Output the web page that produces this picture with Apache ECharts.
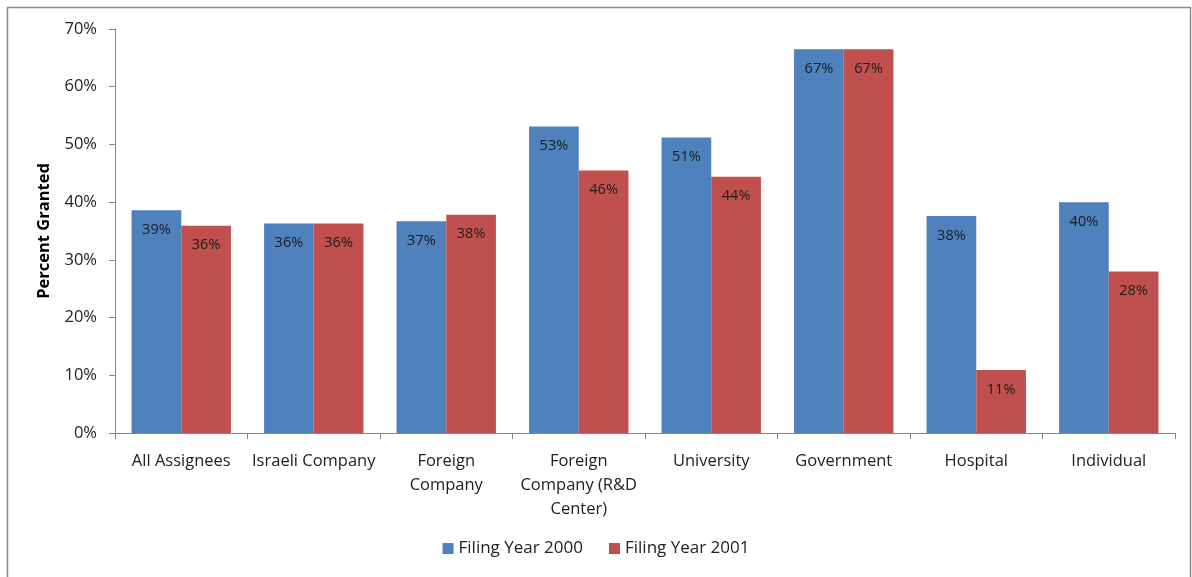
<!DOCTYPE html>
<html>
<head>
<meta charset="utf-8">
<script src="https://cdn.jsdelivr.net/npm/echarts@6/dist/echarts.min.js"></script>
<style>
html,body{margin:0;padding:0;background:#fff;}
#chart{width:1192px;height:577px;}
</style>
</head>
<body>
<div id="chart"></div>
<script>
const categories = ['All Assignees', 'Israeli Company', 'Foreign\nCompany', 'Foreign\nCompany (R&D\nCenter)', 'University', 'Government', 'Hospital', 'Individual'];
const year2000 = [38.6, 36.3, 36.7, 53.1, 51.2, 66.5, 37.6, 40.0];
const year2001 = [35.9, 36.3, 37.8, 45.5, 44.4, 66.5, 10.9, 28.0];
const yTicks = [0, 10, 20, 30, 40, 50, 60, 70];
const seriesNames = ['Filing Year 2000', 'Filing Year 2001'];

const font = '"Open Sans", "Liberation Sans", sans-serif';
const chart = echarts.init(document.getElementById('chart'));
const labelCfg = {
  show: true,
  position: 'insideTop',
  distance: 12,
  color: '#1c1c1c',
  fontFamily: font,
  fontSize: 14.5,
  formatter: p => Math.round(p.value) + '%'
};
chart.setOption({
  animation: false,
  backgroundColor: '#fff',
  graphic: [{
    type: 'rect',
    shape: { x: 7.5, y: 7.5, width: 1183, height: 600 },
    style: { fill: 'none', stroke: '#8c8c8c', lineWidth: 1.5 },
    silent: true
  }],
  grid: { left: 115, right: 17, top: 29, bottom: 144, containLabel: false },
  legend: {
    bottom: 15,
    left: 'center',
    itemWidth: 11,
    itemHeight: 11,
    itemGap: 26,
    icon: 'rect',
    textStyle: { fontFamily: font, fontSize: 17, color: '#222' },
    data: seriesNames
  },
  xAxis: {
    type: 'category',
    data: categories,
    axisLine: { lineStyle: { color: '#868686' } },
    axisTick: { show: true, length: 6, lineStyle: { color: '#868686' } },
    axisLabel: { fontFamily: font, fontSize: 16.5, color: '#222', margin: 16, lineHeight: 24, interval: 0 }
  },
  yAxis: {
    type: 'value',
    min: 0,
    max: 70,
    interval: 10,
    name: 'Percent Granted',
    nameLocation: 'middle',
    nameGap: 62,
    nameTextStyle: { fontFamily: font, fontSize: 16.5, fontWeight: 'bold', color: '#000' },
    axisLine: { show: true, lineStyle: { color: '#868686' } },
    axisTick: { show: true, inside: false, length: 6, lineStyle: { color: '#868686' } },
    splitLine: { show: false },
    axisLabel: {
      fontFamily: font, fontSize: 16.5, color: '#222', margin: 18,
      formatter: v => yTicks.includes(v) ? v + '%' : ''
    }
  },
  series: [
    {
      name: seriesNames[0], type: 'bar', data: year2000,
      barGap: '0%', barCategoryGap: '25%',
      itemStyle: { color: '#4F81BD' },
      label: labelCfg
    },
    {
      name: seriesNames[1], type: 'bar', data: year2001,
      barGap: '0%', barCategoryGap: '25%',
      itemStyle: { color: '#C0504D' },
      label: labelCfg
    }
  ]
});
</script>
</body>
</html>
